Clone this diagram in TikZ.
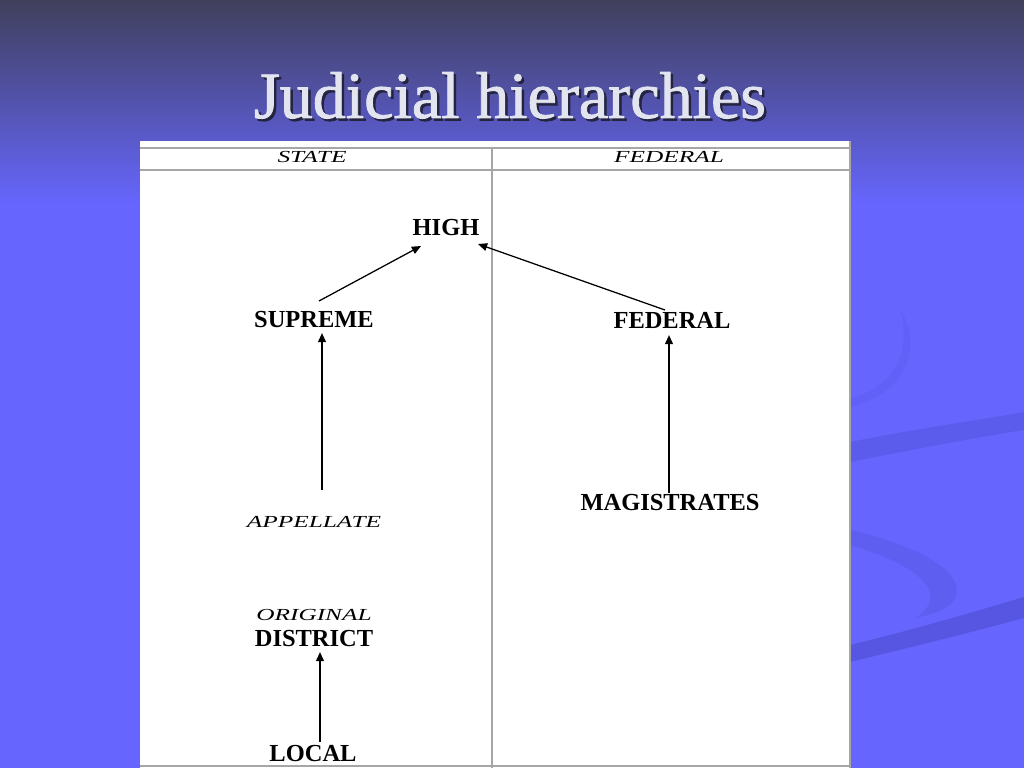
\documentclass[tikz,border=0pt]{standalone}
\usepackage{fontspec}
\setmainfont{Liberation Serif}
\newfontfamily\tabfont[FakeStretch=1.5]{Liberation Serif}
\newfontfamily\titlefont[FakeBold=1.3]{Liberation Serif}
\usetikzlibrary{arrows.meta, positioning, calc}
\definecolor{slidetop}{RGB}{64,64,92}
\definecolor{slideblue}{RGB}{102,102,255}
\definecolor{swoosh}{RGB}{80,80,215}
\definecolor{rulegray}{RGB}{166,166,166}
\definecolor{titletext}{RGB}{226,228,240}
\definecolor{titleshade}{RGB}{36,36,64}

\begin{document}
\begin{tikzpicture}[x=0.025cm, y=-0.025cm,
            court/.style={inner sep=0pt, font=\fontsize{17.4}{20}\selectfont\bfseries},
            level/.style={inner sep=0pt, font=\tabfont\itshape\fontsize{12}{14}\selectfont},
            title/.style={anchor=base, inner sep=0pt, font=\titlefont\fontsize{47}{52}\selectfont},
            arrow/.style={-{Triangle[width=5.5pt, length=6.5pt]}, line width=1.3pt},
            rule/.style={draw=rulegray, line width=1.4pt}]

            % slide background
            \useasboundingbox (0,0) rectangle (1024,768);
            \shade[top color=slidetop, bottom color=slideblue] (0,0) rectangle (1024,205);
            \fill[slideblue] (0,204) rectangle (1024,768);
            \fill[swoosh, opacity=0.2] (850,407) .. controls (905,395) and (925,345) .. (900,310) .. controls (912,350) and (895,388) .. (850,398) -- cycle;
            \fill[swoosh, opacity=0.45] (850,442) .. controls (920,428) and (980,420) .. (1024,412) -- (1024,430) .. controls (980,437) and (920,448) .. (850,462) -- cycle;
            \fill[swoosh, opacity=0.35] (850,530) .. controls (930,548) and (975,580) .. (950,605) .. controls (940,612) and (925,616) .. (915,618) .. controls (945,600) and (935,570) .. (850,545) -- cycle;
            \fill[swoosh, opacity=0.7] (850,645) .. controls (920,628) and (980,610) .. (1024,597) -- (1024,618) .. controls (980,630) and (920,645) .. (850,662) -- cycle;

            \node[title, text=titleshade] (titleshadow) at (512.5,120.5) {Judicial hierarchies};
            \node[title, text=titletext] (title) at (510,118) {Judicial hierarchies};

            % table
            \fill[white] (140,141) rectangle (850,768);
            \draw[rule] (140,148) -- (850,148);
            \draw[rule] (140,170) -- (850,170);
            \draw[rule] (492,148) -- (492,768);
            \draw[rule] (850,141) -- (850,768);
            \draw[rule] (140,766) -- (850,766);

            \node[level] (state) at (312,157) {STATE};
            \node[level] (federalhd) at (669,157) {FEDERAL};

            \node[court] (high) at (446,228) {HIGH};
            \node[court] (sup) at (314,320) {SUPREME};
            \node[court] (fed) at (672,320) {FEDERAL};
            \node[level] (app) at (314,522) {APPELLATE};
            \node[court] (mag) at (670,503) {MAGISTRATES};
            \node[level] (orig) at (314,615) {ORIGINAL};
            \node[court, below of=orig, node distance=0.6cm] (dist) {DISTRICT};
            \node[court] (local) at (313,754) {LOCAL};

            \draw[arrow, line width=0.9pt] ($(sup)+(5,-19)$) -- ($(high)+(-25,18)$);
            \draw[arrow, line width=0.9pt] ($(fed)+(-7,-10)$) -- ($(high)+(32,16)$);
            \draw[arrow] ($(app)+(8,-32)$) -- ($(sup)+(8,13)$);
            \draw[arrow] ($(mag)+(-1,-10)$) -- ($(fed)+(-3,15)$);
            \draw[arrow] ($(local)+(7,-12)$) -- ($(dist)+(6,13)$);
        \end{tikzpicture}
\end{document}
